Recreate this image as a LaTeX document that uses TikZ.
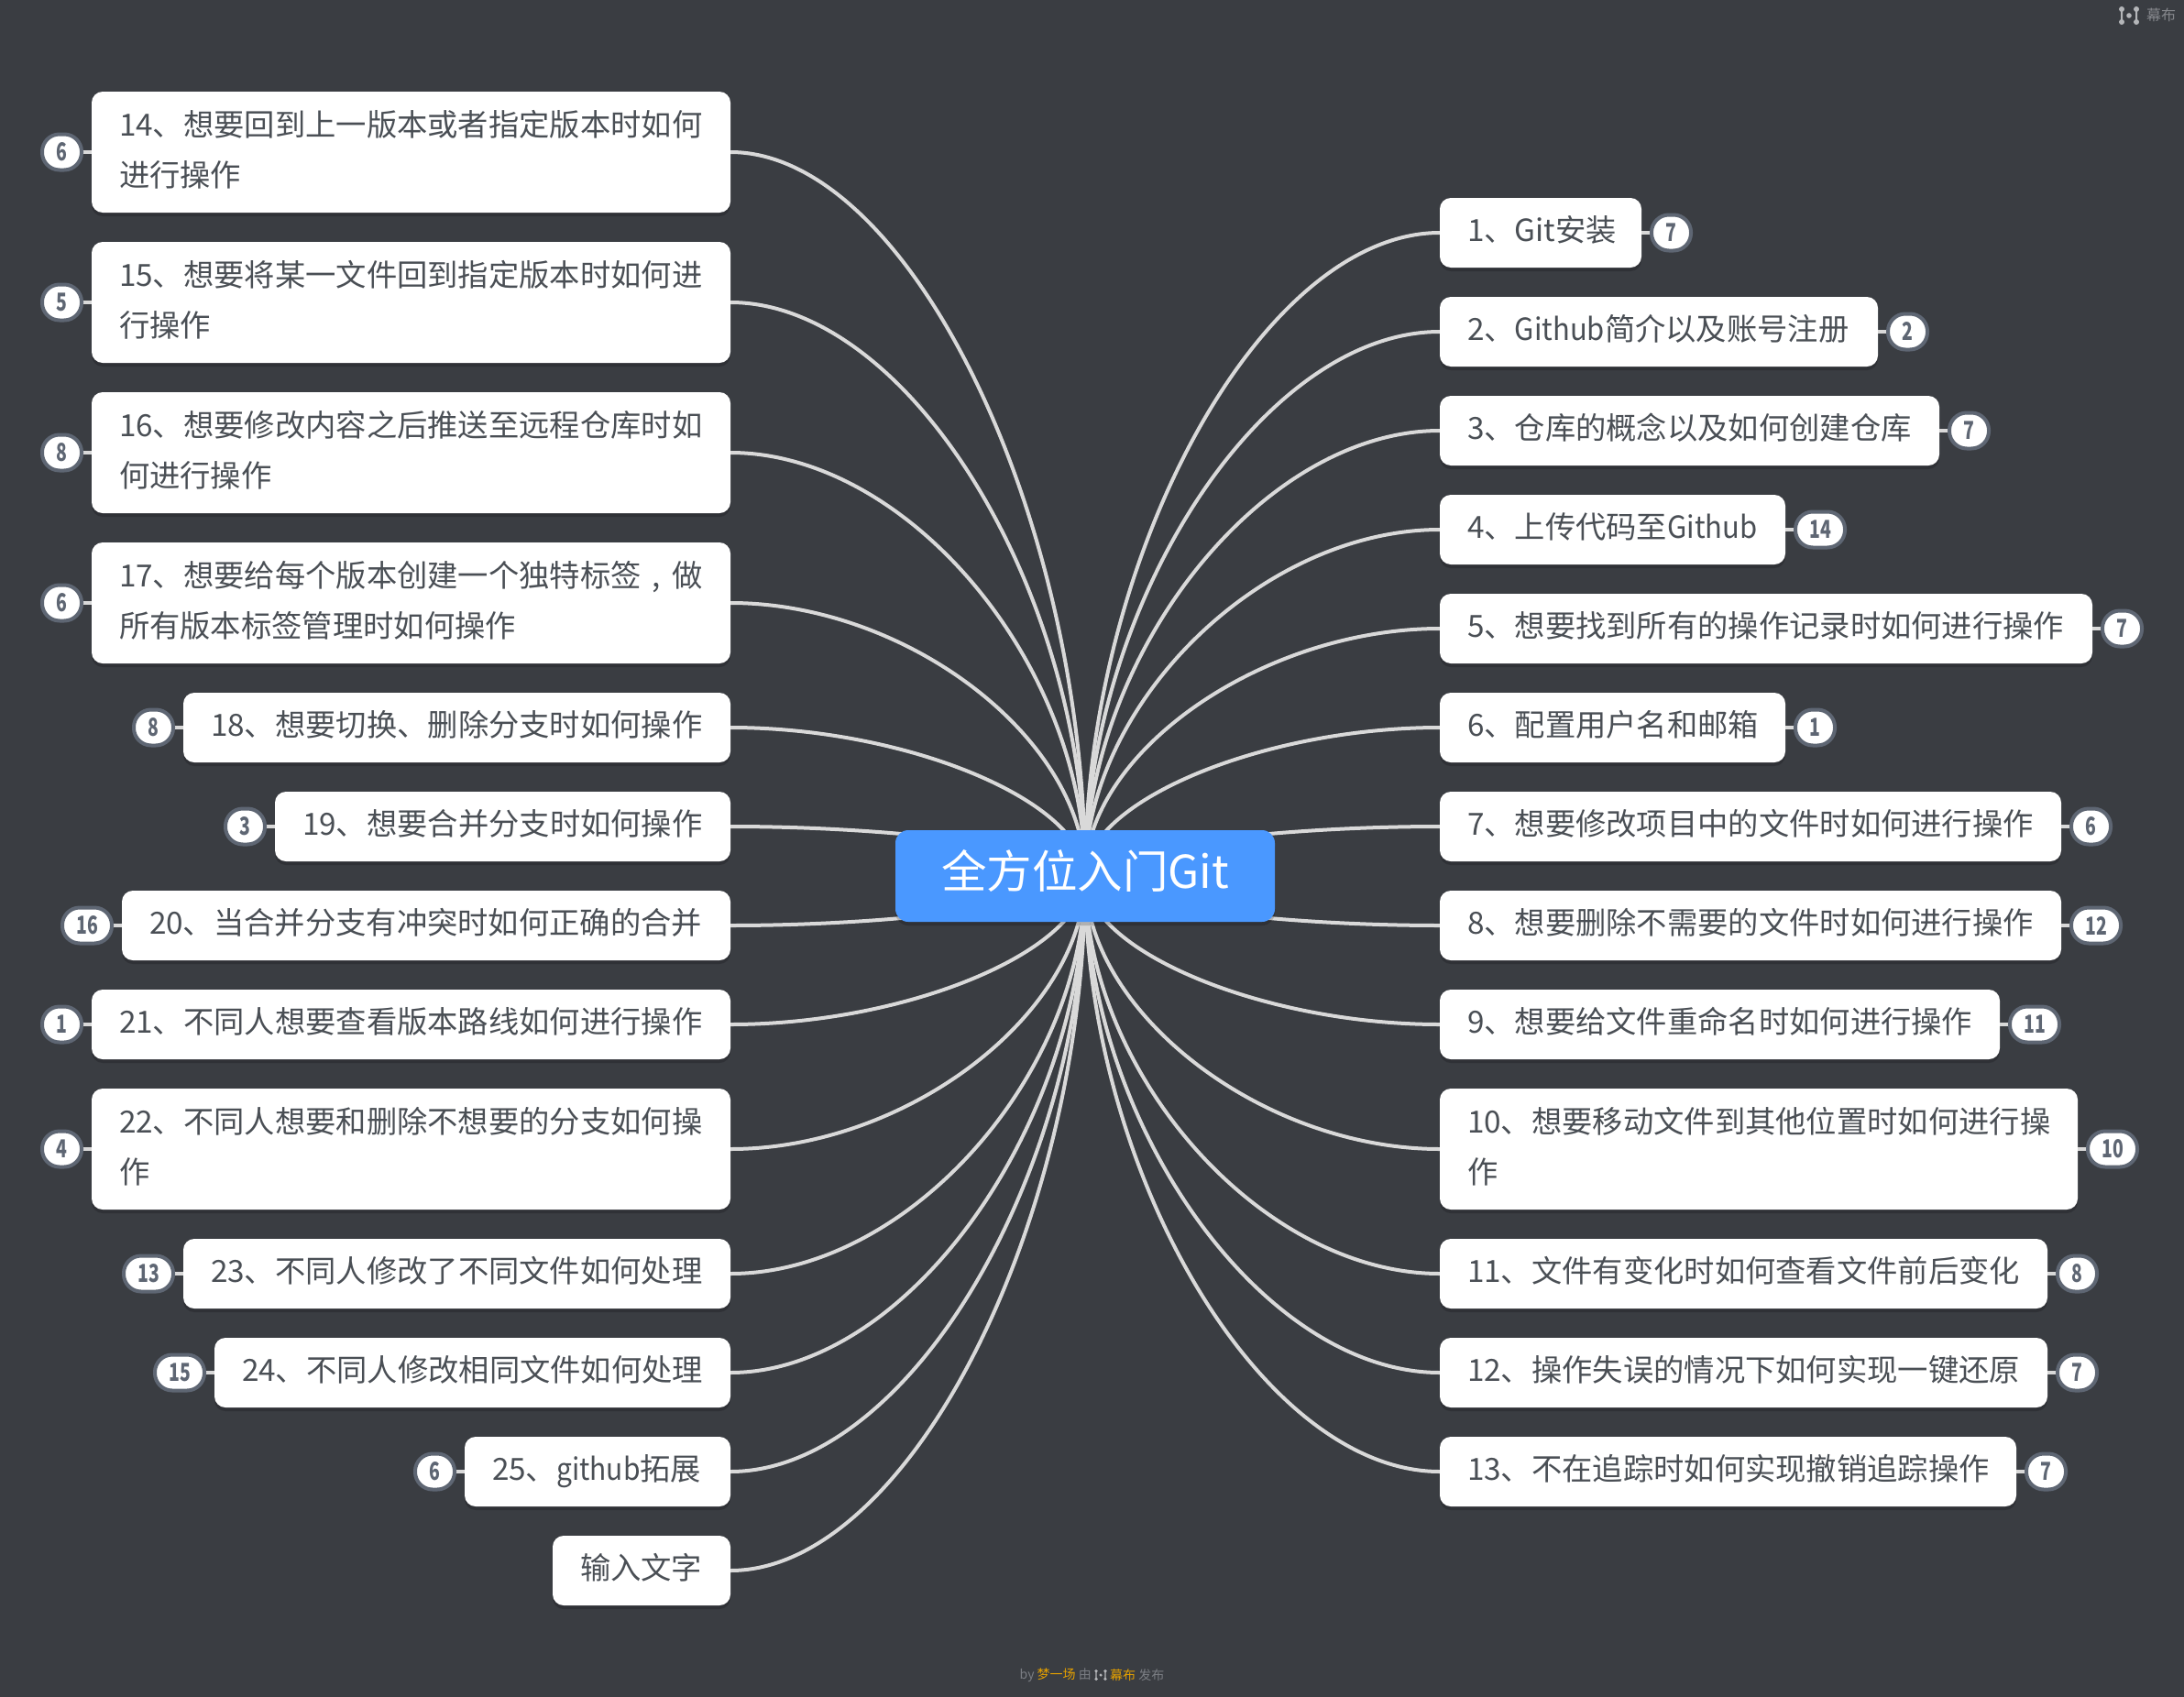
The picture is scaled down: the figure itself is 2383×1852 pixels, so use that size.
\documentclass[tikz,border=0pt]{standalone}
\usepackage{fontspec}
\setmainfont{Noto Sans CJK SC}
\usetikzlibrary{calc,backgrounds,positioning,shadows}
\definecolor{bgdark}{HTML}{3A3D42}
\definecolor{linegrey}{HTML}{D9D9D9}
\definecolor{rootblue}{HTML}{4A98FF}
\definecolor{cardtext}{HTML}{4A4F55}
\definecolor{badgeedge}{HTML}{5E6673}
\definecolor{footgrey}{HTML}{7B7E84}
\definecolor{footgold}{HTML}{E6A100}
\definecolor{logogrey}{HTML}{85878C}
\definecolor{logolight}{HTML}{B4B6B9}
\pgfdeclarelayer{links}
\pgfsetlayers{background,links,main}
\tikzset{
  softshadow/.style={drop shadow={shadow xshift=0pt,shadow yshift=-4pt,fill=black,opacity=.18}},
  cardbox/.style={fill=white,rounded corners=12pt,inner sep=0pt,outer sep=0pt,softshadow,text=cardtext,
    font=\fontsize{33.3}{55}\selectfont},
  rootbox/.style={fill=rootblue,rounded corners=14pt,inner sep=0pt,outer sep=0pt,softshadow,text=white,
    font=\fontsize{49.5}{55}\selectfont,minimum width=414pt,minimum height=100pt},
  badgebox/.style={fill=white,draw=badgeedge,line width=4pt,rounded corners=19pt,inner sep=0pt,
    minimum height=39pt,text=badgeedge},
  linkline/.style={draw=linegrey,line width=4pt},
  stubline/.style={draw=linegrey,line width=4pt},
}
\newcommand{\narrowlatin}[1]{\scalebox{.93}[1]{#1}}
% name, left, right, centre y, height, text
\newcommand{\mcard}[6]{%
  \node[cardbox,minimum width={#3-#2},minimum height=#5] (#1) at ({(#2+#3)/2},#4)
    {\raisebox{0pt}[\height][\dimexpr\depth+3pt\relax]{\parbox[c]{\dimexpr #3pt-#2pt-60pt\relax}{\raggedright\strut #6\strut}}};}
% badge node: card, name, side, text, width
\newcommand{\mbadge}[5]{%
  \node[badgebox,minimum width=#5,#3=9pt of #1] (#2) {\scalebox{.72}[1]{\bfseries\fontsize{27}{27}\selectfont #4}};
  \begin{pgfonlayer}{links}\draw[stubline] (#1) -- (#2);\end{pgfonlayer}}
\newcommand{\rlink}[1]{%
  \begin{pgfonlayer}{links}
  \draw[linkline] let \p1=(root.center),\p2=(#1.west) in
    (\p1) .. controls (\x1,{0.5*(\y1+\y2)}) and ({0.5*(\x1+\x2)},\y2) .. (\p2);
  \end{pgfonlayer}}
\newcommand{\llink}[1]{%
  \begin{pgfonlayer}{links}
  \draw[linkline] let \p1=(root.center),\p2=(#1.east) in
    (\p1) .. controls (\x1,{0.5*(\y1+\y2)}) and ({0.5*(\x1+\x2)},\y2) .. (\p2);
  \end{pgfonlayer}}
% small logo at centre, scale, colour
\newcommand{\mlogo}[4]{%
  \begin{scope}[shift={(#1,#2)},x=#3pt,y=-#3pt]
    \fill[#4] (-8,-7) circle[radius=3*#3pt] (8,-7) circle[radius=3*#3pt] (-8,7) circle[radius=3*#3pt] (8,7) circle[radius=3*#3pt] (0,0) circle[radius=2.8*#3pt];
    \fill[#4] (-9,-7) rectangle (-7,7) (7,-7) rectangle (9,7);
  \end{scope}}
\begin{document}
\begin{tikzpicture}[x=1pt,y=-1pt]
\useasboundingbox (0,0) rectangle (2383,1852);
\begin{pgfonlayer}{background}
  \fill[bgdark] (0,0) rectangle (2383,1852);
\end{pgfonlayer}
\node[rootbox] (root) at (1184,956) {\raisebox{0pt}[\height][\dimexpr\depth+12pt\relax]{全方位入门Git}};
% right side
\mcard{c1}{1571}{1791}{254}{76pt}{1、Git安装}
\mcard{c2}{1571}{2049}{362}{76pt}{2、\narrowlatin{Github}简介以及账号注册}
\mcard{c3}{1571}{2116}{470}{76pt}{3、仓库的概念以及如何创建仓库}
\mcard{c4}{1571}{1948}{578}{76pt}{4、上传代码至\narrowlatin{Github}}
\mcard{c5}{1571}{2283}{686}{76pt}{5、想要找到所有的操作记录时如何进行操作}
\mcard{c6}{1571}{1948}{794}{76pt}{6、配置用户名和邮箱}
\mcard{c7}{1571}{2249}{902}{76pt}{7、想要修改项目中的文件时如何进行操作}
\mcard{c8}{1571}{2249}{1010}{76pt}{8、想要删除不需要的文件时如何进行操作}
\mcard{c9}{1571}{2182}{1118}{76pt}{9、想要给文件重命名时如何进行操作}
\mcard{c10}{1571}{2267}{1254}{132pt}{10、想要移动文件到其他位置时如何进行操\\作}
\mcard{c11}{1571}{2234}{1390}{76pt}{11、文件有变化时如何查看文件前后变化}
\mcard{c12}{1571}{2234}{1498}{76pt}{12、操作失误的情况下如何实现一键还原}
\mcard{c13}{1571}{2200}{1606}{76pt}{13、不在追踪时如何实现撤销追踪操作}
% left side
\mcard{c14}{100}{797}{166}{132pt}{14、想要回到上一版本或者指定版本时如何\\进行操作}
\mcard{c15}{100}{797}{330}{132pt}{15、想要将某一文件回到指定版本时如何进\\行操作}
\mcard{c16}{100}{797}{494}{132pt}{16、想要修改内容之后推送至远程仓库时如\\何进行操作}
\mcard{c17}{100}{797}{658}{132pt}{17、想要给每个版本创建一个独特标签\makebox[1em][c]{,}做\\所有版本标签管理时如何操作}
\mcard{c18}{200}{797}{794}{76pt}{18、想要切换、删除分支时如何操作}
\mcard{c19}{300}{797}{902}{76pt}{19、想要合并分支时如何操作}
\mcard{c20}{133}{797}{1010}{76pt}{20、当合并分支有冲突时如何正确的合并}
\mcard{c21}{100}{797}{1118}{76pt}{21、不同人想要查看版本路线如何进行操作}
\mcard{c22}{100}{797}{1254}{132pt}{22、不同人想要和删除不想要的分支如何操\\作}
\mcard{c23}{200}{797}{1390}{76pt}{23、不同人修改了不同文件如何处理}
\mcard{c24}{234}{797}{1498}{76pt}{24、不同人修改相同文件如何处理}
\mcard{c25}{507}{797}{1606}{76pt}{25、\scalebox{.9}[1]{github}拓展}
\mcard{c26}{603}{797}{1714}{76pt}{输入文字}
% links
\foreach \cname in {c1,c2,c3,c4,c5,c6,c7,c8,c9,c10,c11,c12,c13}{\rlink{\cname}}
\foreach \cname in {c14,c15,c16,c17,c18,c19,c20,c21,c22,c23,c24,c25,c26}{\llink{\cname}}
% badges
\mbadge{c1}{b1}{right}{7}{43pt}
\mbadge{c2}{b2}{right}{2}{43pt}
\mbadge{c3}{b3}{right}{7}{43pt}
\mbadge{c4}{b4}{right}{14}{54pt}
\mbadge{c5}{b5}{right}{7}{43pt}
\mbadge{c6}{b6}{right}{1}{43pt}
\mbadge{c7}{b7}{right}{6}{43pt}
\mbadge{c8}{b8}{right}{12}{54pt}
\mbadge{c9}{b9}{right}{11}{54pt}
\mbadge{c10}{b10}{right}{10}{54pt}
\mbadge{c11}{b11}{right}{8}{43pt}
\mbadge{c12}{b12}{right}{7}{43pt}
\mbadge{c13}{b13}{right}{7}{43pt}
\mbadge{c14}{b14}{left}{6}{43pt}
\mbadge{c15}{b15}{left}{5}{43pt}
\mbadge{c16}{b16}{left}{8}{43pt}
\mbadge{c17}{b17}{left}{6}{43pt}
\mbadge{c18}{b18}{left}{8}{43pt}
\mbadge{c19}{b19}{left}{3}{43pt}
\mbadge{c20}{b20}{left}{16}{54pt}
\mbadge{c21}{b21}{left}{1}{43pt}
\mbadge{c22}{b22}{left}{4}{43pt}
\mbadge{c23}{b23}{left}{13}{54pt}
\mbadge{c24}{b24}{left}{15}{54pt}
\mbadge{c25}{b25}{left}{6}{43pt}
% top-right logo
\mlogo{2323}{17}{1}{logolight}
\node[text=logogrey,font=\fontsize{16}{16}\selectfont,inner sep=0pt] (brand) at (2358,16) {幕布};
% footer
\node[anchor=east,inner sep=0pt,font=\fontsize{14}{14}\selectfont,text=footgrey] (footl) at (1191,1828)
  {by \textcolor{footgold}{梦一场} 由};
\mlogo{1201}{1828}{.62}{logolight}
\node[anchor=west,inner sep=0pt,font=\fontsize{14}{14}\selectfont,text=footgrey] (footr) at (1211,1828)
  {\textcolor{footgold}{幕布} 发布};
\end{tikzpicture}
\end{document}
